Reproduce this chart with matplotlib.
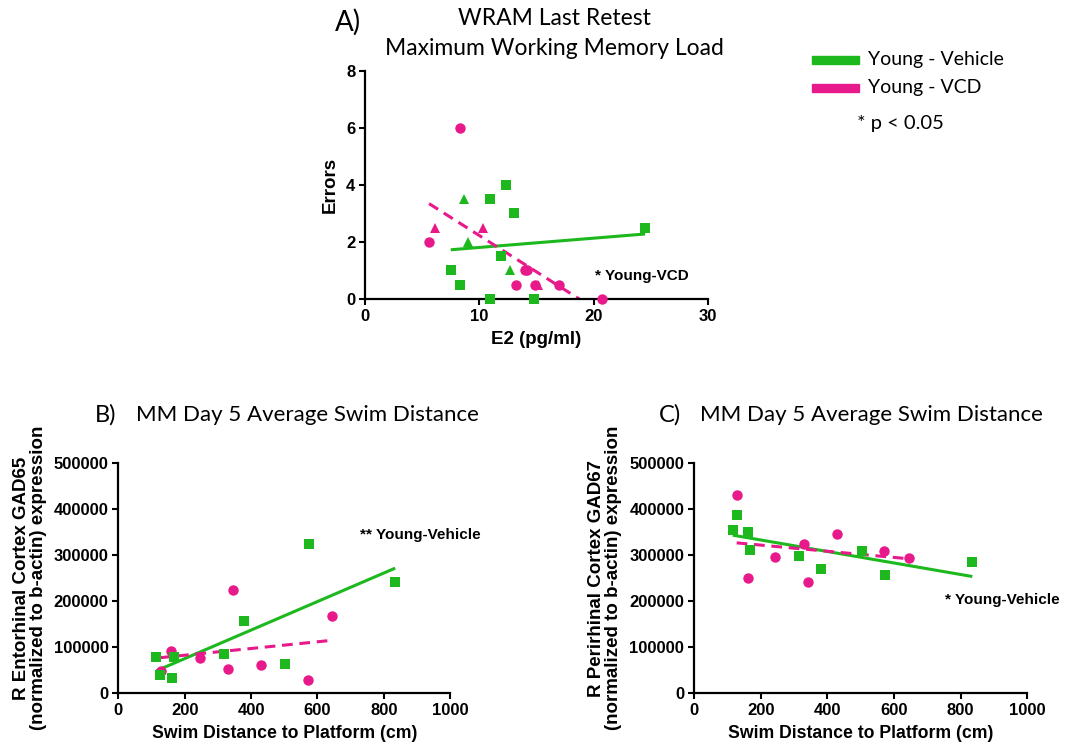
import matplotlib
matplotlib.use("Agg")
import matplotlib.pyplot as plt
import numpy as np

GREEN = "#1db81d"
PINK = "#e8198b"
TITLE_FONT = "Lato"
AXIS_FONT = "Liberation Sans"

# --- A) E2 vs WRAM errors ---
a_veh_sq_x = [7.5, 8.3, 10.9, 12.3, 13.0, 11.9, 10.9, 14.8, 24.5]
a_veh_sq_y = [1.0, 0.5, 3.5, 4.0, 3.0, 1.5, 0.0, 0.0, 2.5]
a_veh_tri_x = [8.65, 9.0, 12.7]
a_veh_tri_y = [3.5, 2.0, 1.0]
a_vcd_circ_x = [5.6, 8.3, 13.25, 14.0, 14.2, 14.85, 16.95, 20.75]
a_vcd_circ_y = [2.0, 6.0, 0.5, 1.0, 1.0, 0.5, 0.5, 0.0]
a_vcd_tri_x = [6.1, 10.3, 15.1]
a_vcd_tri_y = [2.5, 2.5, 0.5]

# --- B) swim distance vs entorhinal GAD65 ---
b_veh_x = [115, 127, 162, 168, 317, 379, 503, 573, 834]
b_veh_y = [78000, 40000, 34000, 79000, 85000, 158000, 64000, 325000, 242000]
b_vcd_x = [160, 128, 246, 330, 345, 429, 570, 643]
b_vcd_y = [92000, 48000, 77000, 53000, 225000, 61000, 29000, 168000]

# --- C) swim distance vs perirhinal GAD67 ---
c_veh_x = [116, 128, 161, 168, 316, 380, 504, 573, 835]
c_veh_y = [354000, 388000, 351000, 312000, 299000, 271000, 309000, 256000, 286000]
c_vcd_x = [128, 161, 243, 331, 343, 428, 570, 644]
c_vcd_y = [430000, 250000, 297000, 325000, 241000, 347000, 310000, 293000]


def style_axes(ax, xlim, ylim, xticks, yticks):
    ax.set_xlim(*xlim)
    ax.set_ylim(*ylim)
    ax.set_xticks(xticks)
    ax.set_yticks(yticks)
    for s in ("top", "right"):
        ax.spines[s].set_visible(False)
    for s in ("left", "bottom"):
        ax.spines[s].set_linewidth(1.6)
    ax.tick_params(direction="out", length=4, width=1.5, pad=3)
    for lab in ax.get_xticklabels() + ax.get_yticklabels():
        lab.set_fontfamily(AXIS_FONT)
        lab.set_fontweight("bold")
        lab.set_fontsize(12)


def fit_line(ax, xs, ys, color, dashed):
    xs = np.asarray(xs, float)
    ys = np.asarray(ys, float)
    k, b = np.polyfit(xs, ys, 1)
    xx = np.array([xs.min(), xs.max()])
    kw = dict(color=color, lw=2.2, solid_capstyle="butt", zorder=2)
    if dashed:
        ax.plot(xx, k * xx + b, dashes=(3.5, 2.2), **kw)
    else:
        ax.plot(xx, k * xx + b, **kw)


def pts(ax, xs, ys, marker, color, size):
    ax.plot(xs, ys, linestyle="none", marker=marker, color=color,
            markersize=size, markeredgewidth=0, clip_on=False, zorder=3)


fig = plt.figure(figsize=(10.77, 7.52), dpi=100)

# panel A
axA = fig.add_axes([0.3389, 0.6024, 0.3185, 0.3032])
pts(axA, a_veh_sq_x, a_veh_sq_y, "s", GREEN, 7.5)
pts(axA, a_veh_tri_x, a_veh_tri_y, "^", GREEN, 7.5)
pts(axA, a_vcd_circ_x, a_vcd_circ_y, "o", PINK, 7.5)
pts(axA, a_vcd_tri_x, a_vcd_tri_y, "^", PINK, 7.5)
fit_line(axA, a_veh_sq_x + a_veh_tri_x, a_veh_sq_y + a_veh_tri_y, GREEN, False)
fit_line(axA, a_vcd_circ_x + a_vcd_tri_x, a_vcd_circ_y + a_vcd_tri_y, PINK, True)
style_axes(axA, (0, 30), (0, 8), [0, 10, 20, 30], [0, 2, 4, 6, 8])
axA.set_xlabel("E2 (pg/ml)", fontfamily=AXIS_FONT, fontweight="bold", fontsize=13.5, labelpad=5)
axA.set_ylabel("Errors", fontfamily=AXIS_FONT, fontweight="bold", fontsize=13.5, labelpad=5)
axA.text(20.1, 0.8, "* Young-VCD", fontfamily=AXIS_FONT, fontweight="bold",
         fontsize=11, va="center", ha="left")
fig.text(0.515, 0.976, "WRAM Last Retest", fontfamily=TITLE_FONT, fontsize=16.5,
         ha="center", va="center")
fig.text(0.515, 0.935, "Maximum Working Memory Load", fontfamily=TITLE_FONT,
         fontsize=16.5, ha="center", va="center")
fig.text(0.323, 0.970, "A)", fontfamily=TITLE_FONT, fontsize=20, ha="center", va="center")

# legend
fig.patches.append(plt.Rectangle((812 / 1077, 1 - 64 / 752), 47 / 1077, 8 / 752,
                                 color=GREEN, transform=fig.transFigure, figure=fig))
fig.patches.append(plt.Rectangle((812 / 1077, 1 - 92 / 752), 47 / 1077, 8 / 752,
                                 color=PINK, transform=fig.transFigure, figure=fig))
fig.text(868 / 1077, 1 - 60 / 752, "Young - Vehicle", fontfamily=TITLE_FONT,
         fontsize=14, va="center", ha="left")
fig.text(868 / 1077, 1 - 88 / 752, "Young - VCD", fontfamily=TITLE_FONT,
         fontsize=14, va="center", ha="left")
fig.text(857 / 1077, 1 - 124 / 752, "* p < 0.05", fontfamily=TITLE_FONT,
         fontsize=14.5, va="center", ha="left")

# panels B and C
for rect, vx, vy, cx, cy, ylab, note, note_xy, letter, lx in [
    ([0.1098, 0.0781, 0.3083, 0.3059], b_veh_x, b_veh_y, b_vcd_x, b_vcd_y,
     "R Entorhinal Cortex GAD65\n(normalized to b-actin) expression",
     "** Young-Vehicle", (729, 344000), "B)", 106),
    ([0.6444, 0.0781, 0.3095, 0.3059], c_veh_x, c_veh_y, c_vcd_x, c_vcd_y,
     "R Perirhinal Cortex GAD67\n(normalized to b-actin) expression",
     "* Young-Vehicle", (753, 203000), "C)", 670),
]:
    ax = fig.add_axes(rect)
    pts(ax, cx, cy, "o", PINK, 7.5)
    pts(ax, vx, vy, "s", GREEN, 7.5)
    fit_line(ax, vx, vy, GREEN, False)
    fit_line(ax, cx, cy, PINK, True)
    style_axes(ax, (0, 1000), (0, 500000), [0, 200, 400, 600, 800, 1000],
               [0, 100000, 200000, 300000, 400000, 500000])
    ax.set_xlabel("Swim Distance to Platform (cm)", fontfamily=AXIS_FONT,
                  fontweight="bold", fontsize=12.7, labelpad=5)
    ax.set_ylabel(ylab, fontfamily=AXIS_FONT, fontweight="bold", fontsize=13.5,
                  labelpad=5, linespacing=1.0)
    ax.text(note_xy[0], note_xy[1], note, fontfamily=AXIS_FONT, fontweight="bold",
            fontsize=11, va="center", ha="left")
    fig.text(lx / 1077, 1 - 415 / 752, letter, fontfamily=TITLE_FONT, fontsize=17,
             ha="center", va="center")
    fig.text((lx + 30) / 1077, 1 - 415 / 752, "MM Day 5 Average Swim Distance",
             fontfamily=TITLE_FONT, fontsize=16, ha="left", va="center")

fig.savefig("out.png", dpi=100)
